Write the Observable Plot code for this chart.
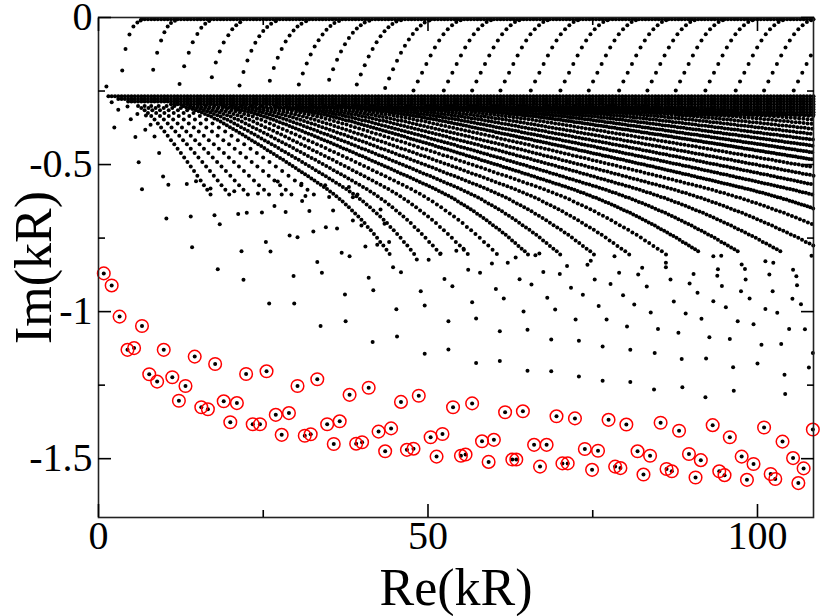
<!DOCTYPE html>
<html><head><meta charset="utf-8">
<script src="https://cdn.jsdelivr.net/npm/d3@7"></script>
<script src="https://cdn.jsdelivr.net/npm/@observablehq/plot@0.6"></script>
<style>
html,body{margin:0;padding:0;background:#fff}
svg{display:block}
svg text{font-family:"Liberation Serif","DejaVu Serif","Noto Serif","Times New Roman",Times,serif !important}
</style>
</head><body><div id="chart"></div>
<script>
// ---------- tick values ----------
const xMajor = [0, 50, 100];
const xMinor = [25, 75];
const yMajor = [0, -0.5, -1, -1.5];
const yMinor = [-0.25, -0.75, -1.25];

// ---------- x positions of the dense dot rows ----------
const gridX = [0.5,1,1.5,2,2.5,3,3.5,4,4.5,5,5.5,6,6.5,7,7.5,8,8.5,9,9.5,10,
10.5,11,11.5,12,12.5,13,13.5,14,14.5,15,15.5,16,16.5,17,17.5,18,18.5,19,19.5,20,
20.5,21,21.5,22,22.5,23,23.5,24,24.5,25,25.5,26,26.5,27,27.5,28,28.5,29,29.5,30,
30.5,31,31.5,32,32.5,33,33.5,34,34.5,35,35.5,36,36.5,37,37.5,38,38.5,39,39.5,40,
40.5,41,41.5,42,42.5,43,43.5,44,44.5,45,45.5,46,46.5,47,47.5,48,48.5,49,49.5,50,
50.5,51,51.5,52,52.5,53,53.5,54,54.5,55,55.5,56,56.5,57,57.5,58,58.5,59,59.5,60,
60.5,61,61.5,62,62.5,63,63.5,64,64.5,65,65.5,66,66.5,67,67.5,68,68.5,69,69.5,70,
70.5,71,71.5,72,72.5,73,73.5,74,74.5,75,75.5,76,76.5,77,77.5,78,78.5,79,79.5,80,
80.5,81,81.5,82,82.5,83,83.5,84,84.5,85,85.5,86,86.5,87,87.5,88,88.5,89,89.5,90,
90.5,91,91.5,92,92.5,93,93.5,94,94.5,95,95.5,96,96.5,97,97.5,98,98.5,99,99.5,100,
100.5,101,101.5,102,102.5,103,103.5,104,104.5,105,105.5,106,106.5,107,107.5,108,108.5];

// row of resonances at Im ~ 0 (top) and the dense band just below Im ~ -0.27
const topRowY = -0.006;
const topRowFrom = 6.5;
const bandRowY = [-0.268, -0.277, -0.286, -0.295, -0.304, -0.313, -0.322, -0.331];
const bandRowFrom = [1.5, 3, 4.5, 11, 30, 50, 70, 88];

// ---------- upper branches rising to Im = 0 ----------
const upperRightY = [-.248,-.218,-.188,-.158,-.129,-.102,-.078,-.057,-.040,-.026,-.015,-.009];
const upperCurvesX = [
 [3.6,4.1,4.7,5.3,5.9,6.4],
 [8.3,8.9,9.5,10.0,10.5,11.0,11.6],
 [12.3,13.0,13.7,14.3,15.0,15.6,16.2,16.8],
 [17.2,17.8,18.4,19.0,19.7,20.3,20.9,21.5],
 [21.4,22.0,22.6,23.2,23.8,24.4,25.0,25.6,26.2,26.9],
 [26.0,26.6,27.2,27.8,28.4,29.0,29.6,30.2,30.8,31.5],
 [30.4,31.0,31.6,32.2,32.8,33.4,34.0,34.6,35.2,35.8,36.5],
 [35.0,35.6,36.2,36.8,37.4,38.0,38.6,39.2,39.8,40.4,41.1],
 [39.2,39.8,40.4,41.0,41.6,42.2,42.8,43.4,44.0,44.6,45.2,45.9],
 [43.5,44.1,44.7,45.3,45.9,46.5,47.1,47.7,48.3,48.9,49.5,50.2],
 [47.8,48.45,49.1,49.75,50.4,51.05,51.7,52.35,53.0,53.65,54.3,54.95],
 [52.4,53.05,53.7,54.35,55.0,55.65,56.3,56.95,57.6,58.25,58.9,59.55],
 [56.7,57.35,58.0,58.65,59.3,59.95,60.6,61.25,61.9,62.55,63.2,63.85],
 [61.0,61.65,62.3,62.95,63.6,64.25,64.9,65.55,66.2,66.85,67.5,68.15],
 [65.6,66.25,66.9,67.55,68.2,68.85,69.5,70.15,70.8,71.45,72.1,72.75],
 [70.1,70.75,71.4,72.05,72.7,73.35,74.0,74.65,75.3,75.95,76.6,77.25],
 [74.4,75.05,75.7,76.35,77.0,77.65,78.3,78.95,79.6,80.25,80.9,81.55],
 [79.0,79.65,80.3,80.95,81.6,82.25,82.9,83.55,84.2,84.85,85.5,86.15],
 [83.3,83.95,84.6,85.25,85.9,86.55,87.2,87.85,88.5,89.15,89.8,90.45],
 [87.6,88.25,88.9,89.55,90.2,90.85,91.5,92.15,92.8,93.45,94.1,94.75],
 [92.1,92.75,93.4,94.05,94.7,95.35,96.0,96.65,97.3,97.95,98.6,99.25],
 [96.7,97.35,98.0,98.65,99.3,99.95,100.6,101.25,101.9,102.55,103.2,103.85],
 [101.0,101.65,102.3,102.95,103.6,104.25,104.9,105.55,106.2,106.85,107.5,108.15],
 [105.5,106.15,106.8,107.45,108.1]
];
const upperCurvesY = [
 [-.18,-.107,-.058,-.031,-.017,-.010],
 [-.178,-.12,-.078,-.05,-.031,-.019,-.011],
 [-.226,-.166,-.12,-.084,-.056,-.035,-.021,-.012],
 [-.203,-.153,-.116,-.085,-.06,-.04,-.026,-.016],
 [-.231,-.185,-.146,-.113,-.086,-.064,-.046,-.032,-.021,-.013],
 [-.215,-.172,-.137,-.107,-.082,-.061,-.044,-.031,-.021,-.013],
 [-.228,-.19,-.156,-.126,-.099,-.077,-.058,-.042,-.029,-.019,-.012],
 [-.212,-.176,-.144,-.116,-.091,-.07,-.052,-.037,-.026,-.017,-.011],
 [-.228,-.194,-.162,-.133,-.107,-.084,-.064,-.047,-.033,-.022,-.014,-.009],
 [-.24,-.207,-.176,-.147,-.12,-.096,-.075,-.056,-.04,-.027,-.017,-.01],
 upperRightY, upperRightY, upperRightY, upperRightY, upperRightY, upperRightY, upperRightY,
 upperRightY, upperRightY, upperRightY, upperRightY, upperRightY, upperRightY, upperRightY
];

// ---------- descending branches below the band ----------
const dxGrid = [-29.5,-29,-28.5,-28,-27.5,-27,-26.5,-26,-25.5,-25,-24.5,-24,-23.5,-23,-22.5,-22,-21.5,-21,-20.5,-20,
-19.5,-19,-18.5,-18,-17.5,-17,-16.5,-16,-15.5,-15,-14.5,-14,-13.5,-13,-12.5,-12,-11.5,-11,-10.5,-10,
-9.5,-9,-8.5,-8,-7.5,-7,-6.5,-6,-5.5,-5,-4.5,-4,-3.5,-3,-2.5,-2,-1.5,-1,-0.5,0,
0.5,1,1.5,2,2.5,3,3.5,4,4.5,5,5.5,6,6.5,7,7.5,8,8.5,9,9.5,10,
10.5,11,11.5,12,12.5,13,13.5,14,14.5,15,15.5,16,16.5,17,17.5,18,18.5,19,19.5,20,
20.5,21,21.5,22,22.5,23,23.5,24,24.5,25,25.5,26,26.5,27,27.5,28,28.5,29,29.5,30,
30.5,31,31.5,32,32.5,33,33.5,34,34.5,35,35.5,36,36.5,37,37.5,38,38.5,39,39.5,40,
40.5,41,41.5,42,42.5,43,43.5,44,44.5,45,45.5,46,46.5,47,47.5,48,48.5,49,49.5,50,
50.5,51,51.5,52,52.5,53,53.5,54,54.5,55,55.5,56,56.5,57,57.5,58,58.5,59,59.5,60,60.5];

const profL = [-.301,-.308,-.315,-.325,-.335,-.347,-.360,-.374,-.388,-.402,-.417,-.431,-.446,-.461,-.476,-.491,-.507,-.522,-.538,-.554,-.570,-.586,-.602];
const profA = [-.302,-.305,-.308,-.311,-.315,-.319,-.323,-.328,-.332,-.337,-.343,-.348,-.354,-.360,
-.366,-.373,-.379,-.385,-.392,-.398,-.405,-.411,-.418,-.424,-.431,-.437,-.444,-.451,-.457,-.464,-.471,-.478,-.484,-.491,
-.498,-.505,-.512,-.519,-.526,-.533,-.540,-.547,-.554,-.562,-.569,-.576,-.583,-.592,-.599,-.608,-.617,-.626,-.636,-.645,-.656,
-.666,-.677,-.688,-.699,-.712,-.723,-.736,-.749,-.763,-.775,-.790,-.804];
const profB = [-.302,-.304,-.306,-.308,-.310,-.313,-.315,-.318,-.321,-.323,-.327,-.330,-.333,-.337,-.340,-.344,-.348,-.352,-.356,-.360,
-.364,-.369,-.373,-.377,-.382,-.386,-.391,-.395,-.399,-.404,-.408,-.413,-.417,-.422,-.426,-.431,-.435,-.440,-.445,-.449,
-.454,-.458,-.463,-.468,-.472,-.477,-.482,-.487,-.491,-.496,-.501,-.506,-.510,-.515,-.520,-.525,-.530,-.535,-.539,-.544,
-.549,-.554,-.559,-.564,-.569,-.574,-.579,-.584,-.590,-.595,-.601,-.606,-.612,-.618,-.626,-.632,-.638,-.645,-.652,-.659,
-.667,-.674,-.682,-.689,-.698,-.706,-.714,
-.722,-.731,-.739,-.748,-.758,-.767,-.777,-.786,-.795,-.806];
const profC = [-.303,-.304,-.305,-.307,-.308,-.310,-.311,-.313,-.315,-.317,-.319,-.320,-.322,-.325,-.327,-.329,-.331,-.333,-.336,-.338,
-.341,-.343,-.346,-.349,-.351,-.354,-.357,-.360,
-.363,-.366,-.369,-.372,-.375,-.378,-.381,-.384,-.387,-.390,-.393,-.396,-.399,-.402,-.405,-.409,-.412,-.415,-.418,-.421,
-.424,-.427,-.430,-.433,-.437,-.440,-.443,-.446,-.449,-.452,-.456,-.459,-.462,-.465,-.469,-.472,-.475,-.478,-.481,-.485,
-.488,-.491,-.495,-.498,-.501,-.504,-.508,-.511,-.514,-.518,-.521,-.524,-.528,-.531,-.534,-.538,-.541,-.545,-.548,-.551,
-.555,-.558,-.562,-.565,-.568,-.572,-.575,-.579,-.582,-.586,-.590,-.594,-.597,-.602,-.605,-.610,-.613,-.618,-.622,-.627,
-.631,-.636,-.640,-.645,-.650,-.655,-.660,-.664,-.670,-.675,-.680,-.686,-.691,-.697,-.702,-.707,-.714,-.720,-.725,-.731,
-.738,-.743,-.749,-.756,-.763,-.768,-.775,-.782,-.788,-.795];
const profD = [-.302,-.303,-.304,-.305,-.306,-.307,-.308,-.309,-.310,-.311,-.313,-.314,-.315,-.316,-.318,-.319,-.320,-.322,-.323,-.325,
-.326,-.328,-.329,-.331,-.332,-.334,-.336,-.337,-.339,-.341,-.343,-.344,-.346,-.348,-.350,-.352,-.354,-.356,-.358,-.360,
-.362,-.364,-.366,-.368,-.371,-.373,-.375,-.377,-.379,-.381,-.383,-.385,-.387,-.390,-.392,-.394,-.396,-.398,-.400,-.402,
-.405,-.407,-.409,-.411,-.413,-.415,-.418,-.420,-.422,-.424,-.426,-.428,-.431,-.433,-.435,-.437,-.439,-.442,-.444,-.446,
-.448,-.451,-.453,-.455,-.457,-.460,-.462,-.464,-.466,-.469,-.471,-.473,-.475,-.478,-.480,-.482,-.484,-.487,-.489,-.491,
-.494,-.496,-.498,-.500,-.503,-.505,-.507,-.510,-.512,-.514,-.517,-.519,-.521,-.524,-.526,-.528,-.531,-.533,-.535,-.538,
-.540,-.543,-.545,-.547,-.550,-.552,-.554,-.557,-.559,-.562,-.564,-.566,-.569,-.571,-.574,-.576,-.578,-.581,-.583,-.586,
-.588,-.592,-.594,-.596,-.599,-.602,-.605,-.608,-.611,
-.613,-.617,-.619,-.623,-.626,-.629,-.632,-.636,-.638,-.642,-.645,-.649];
const profE = [-.302,-.303,-.303,-.304,-.304,-.305,-.306,-.306,-.307,-.308,-.308,-.309,-.310,-.311,-.311,-.312,-.313,-.314,-.315,-.315,
-.316,-.317,-.318,-.319,-.320,-.321,-.322,-.323,-.324,-.325,-.326,-.327,-.328,-.329,-.330,-.331,-.332,-.333,-.334,-.335,
-.336,-.337,-.338,-.340,-.341,-.342,-.343,-.344,-.346,-.347,-.348,-.349,-.351,-.352,-.353,-.355,-.356,-.357,-.359,-.360,
-.361,-.363,-.364,-.366,-.367,-.368,-.370,-.371,-.373,-.374,-.375,-.377,-.378,-.380,-.381,-.382,-.384,-.385,-.387,-.388,
-.390,-.391,-.392,-.394,-.395,-.397,-.398,-.399,-.401,-.402,-.404,-.405,-.407,-.408,-.410,-.411,-.412,-.414,-.415,-.417,
-.418,-.420,-.421,-.423,-.424,-.426,-.427,-.428,-.430,-.431,-.433,-.434,-.436,-.437,-.439,-.440,-.442,-.443,-.445,-.446,
-.448,-.449,-.451,-.452,-.454,-.455,-.457,-.458,-.460,-.461,-.463,-.464,-.466,-.467,-.469,-.470,-.472,-.473,-.475,-.476,
-.478,-.479,-.481,-.482,-.484];
// family reference width, first offset, and where each branch crosses Im = -0.36 (Re kR)
const famWidth = [9, 20, 29, 42, 60, 90];
const famStart = [-3, -6.5, -9.5, -13.5, -19.5, -29.5];
const crossL = [9, 10.5, 12, 13.7, 15.5, 17.3];
const crossA = [19.0, 20.6, 22.3, 24.1, 26.0];
const crossB = [28.0, 30.1, 32.3, 34.6, 37.0];
const crossC = [39.4, 42.0, 44.8, 47.7, 50.8];
const crossD = [54.0, 57.5, 61.2, 65.1, 69.3];
const crossE = [73.8, 78.6, 83.7, 89.1, 94.9, 101.0, 107.6, 114.6, 122.0];

// ---------- isolated resonances (read individually) ----------
const scatterPts = [
[1.2,-0.235],[2.0,-0.288],[3.0,-0.314],[4.4,-0.303],[4.9,-0.346],[2.4,-0.374],[5.6,-0.406],[6.1,-0.492],[6.6,-0.584],
[5.9,-0.328],[7.2,-0.333],[7.1,-0.382],[7.9,-0.365],[8.5,-0.405],[9.2,-0.461],[9.8,-0.541],
[10.6,-0.569],[13.4,-0.566],[14.8,-0.557],[17.0,-0.581],[20.6,-0.591],[24.2,-0.598],[27.2,-0.558],[27.8,-0.602],
[30.8,-0.565],[34.4,-0.570],[38.0,-0.576],
[10.3,-0.683],[14.0,-0.677],[17.6,-0.672],[18.4,-0.703],[21.2,-0.668],[22.5,-0.664],[24.8,-0.663],[26.7,-0.641],
[28.4,-0.661],[30.9,-0.624],[31.4,-0.607],[32.0,-0.658],[35.0,-0.610],[35.6,-0.656],[38.6,-0.611],[39.3,-0.602],
[14.2,-0.781],[18.1,-0.856],[21.7,-0.795],[22.0,-0.892],[25.4,-0.763],[26.1,-0.796],[29.0,-0.741],[30.2,-0.747],
[29.6,-0.879],[25.9,-0.972],[29.7,-0.972],[32.6,-0.728],[34.5,-0.713],[36.2,-0.717],[33.2,-0.831],[33.9,-0.868],
[33.7,-1.049],[36.9,-0.800],[38.1,-0.812],[37.4,-0.942],[37.5,-1.033],[38.6,-0.690],[39.9,-0.707],[40.5,-0.779],
[42.3,-0.773],[41.0,-0.885],[41.7,-0.927],[41.6,-1.103],[42.8,-0.653],[43.4,-0.701],[44.1,-0.763],
[44.7,-0.849],[45.9,-0.866],[45.2,-0.992],[45.3,-1.085],[48.3,-0.823],[50.1,-0.824],[48.9,-0.931],[49.5,-0.979],
[49.5,-1.143],[51.9,-0.802],[54.3,-0.793],[55.4,-0.786],[52.5,-0.889],[53.7,-0.914],[53.1,-1.033],[53.1,-1.129],
[56.1,-0.858],[57.9,-0.868],[56.7,-0.968],[57.3,-1.023],[57.3,-1.175],[59.7,-0.836],[62.1,-0.834],[63.3,-0.816],
[60.3,-0.923],[61.5,-0.955],[60.9,-1.067],[60.9,-1.168],[63.9,-0.890],[65.7,-0.908],[64.5,-1.000],[65.1,-1.062],
[65.1,-1.201],[66.3,-0.808],[66.9,-0.802],[67.5,-0.865],[70.0,-0.872],[71.1,-0.845],[68.1,-0.953],[69.3,-0.993],
[68.7,-1.095],[68.7,-1.203],[71.7,-0.919],[72.4,-1.027],[72.9,-1.099],[72.9,-1.221],[74.2,-0.841],[74.7,-0.827],
[75.3,-0.891],[73.5,-0.943],[75.9,-0.981],[77.1,-1.027],[76.5,-1.119],[76.5,-1.235],[77.7,-0.906],[78.3,-0.812],
[79.0,-0.868],[79.6,-0.944],[80.2,-1.051],[80.7,-1.130],[80.7,-1.239],[81.9,-0.874],[82.5,-0.851],[83.2,-0.915],
[81.3,-0.976],[83.8,-1.003],[84.9,-1.059],[84.4,-1.141],[84.3,-1.265],[86.1,-0.834],[86.1,-0.849],[86.8,-0.891],
[87.3,-0.966],[88.0,-1.072],[88.5,-1.161],[88.6,-1.257],[89.1,-1.006],[90.3,-0.872],[89.7,-0.904],[90.9,-0.936],
[91.5,-1.024],[92.7,-1.087],[92.2,-1.159],[92.1,-1.291],[93.3,-0.812],[94.5,-0.810],[94.0,-0.856],[93.9,-0.878],
[94.6,-0.913],[93.3,-0.965],[95.2,-0.985],[95.8,-1.093],[96.3,-1.189],[96.4,-1.269],[97.0,-1.033],[97.6,-0.840],
[98.1,-0.855],[98.2,-0.891],[97.5,-0.931],[98.8,-0.955],[99.4,-1.043],[100.6,-1.113],[100.0,-1.176],[101.2,-0.991],
[101.2,-0.829],[102.4,-0.834],[101.8,-0.874],[102.3,-0.931],[103.0,-1.004],[103.6,-1.110],[104.1,-1.215],[104.2,-1.280],
[104.8,-1.059],[105.4,-0.858],[105.9,-0.880],[106.0,-0.910],[105.3,-0.956],[106.6,-0.975],[107.2,-1.060],[108.4,-1.141],
[107.8,-1.190],[108.2,-0.810]
];

// ---------- highlighted (red-circled) resonances ----------
const redPts = [
[0.8,-0.870],[2.0,-0.911],[3.2,-1.017],[6.6,-1.049],[4.4,-1.130],[5.4,-1.124],[9.9,-1.130],[14.6,-1.153],[17.7,-1.178],
[7.7,-1.213],[8.9,-1.238],[11.2,-1.223],[13.2,-1.253],[12.2,-1.303],[15.6,-1.325],[16.6,-1.332],[19.0,-1.305],[21.0,-1.311],
[20.0,-1.376],[22.4,-1.212],[25.5,-1.203],[23.4,-1.383],[24.5,-1.383],[26.9,-1.351],[28.9,-1.345],[27.8,-1.419],[30.2,-1.253],
[33.2,-1.230],[31.3,-1.422],[32.2,-1.417],[34.7,-1.383],[36.6,-1.373],[35.7,-1.450],[38.1,-1.283],[41.0,-1.259],[39.1,-1.449],
[40.0,-1.444],[42.5,-1.408],[44.4,-1.397],[43.5,-1.475],[45.9,-1.307],[48.6,-1.286],[46.8,-1.470],[47.8,-1.466],[50.4,-1.427],
[52.2,-1.416],[51.3,-1.493],[53.8,-1.325],[56.7,-1.312],[55.0,-1.490],[55.7,-1.486],[58.2,-1.441],[60.0,-1.436],[59.2,-1.511],
[61.7,-1.342],[64.4,-1.339],[62.8,-1.503],[63.4,-1.503],[66.1,-1.453],[68.0,-1.453],[67.0,-1.527],[69.5,-1.356],[72.3,-1.363],
[70.4,-1.516],[71.2,-1.516],[73.8,-1.467],[75.8,-1.473],[74.9,-1.538],[77.4,-1.368],[80.1,-1.384],[78.4,-1.527],[79.2,-1.532],
[81.8,-1.475],[83.7,-1.490],[82.7,-1.554],[85.3,-1.378],[88.1,-1.405],[86.2,-1.535],[87.0,-1.543],[89.6,-1.484],[91.4,-1.505],
[90.6,-1.564],[93.2,-1.386],[95.8,-1.427],[94.2,-1.543],[95.0,-1.556],[97.6,-1.493],[99.4,-1.518],[98.4,-1.572],[101.0,-1.394],
[103.8,-1.442],[102.0,-1.552],[102.7,-1.569],[105.4,-1.498],[107.0,-1.533],[106.2,-1.583],[108.4,-1.401]
];

// ---------- build the table of black points ----------
const XMAX = 108.5;
const dots = [];
function add(x, y) { if (x >= 0 && x <= XMAX && y <= 0 && y >= -1.7) dots.push({x, y}); }

gridX.filter(x => x >= topRowFrom).forEach(x => add(x, topRowY));
bandRowY.forEach((y, k) => gridX.filter(x => x >= bandRowFrom[k]).forEach(x => add(x, y)));
upperCurvesX.forEach((xs, k) => xs.forEach((x, i) => add(x, upperCurvesY[k][i])));

const families = [
  [profL, crossL], [profA, crossA], [profB, crossB], [profC, crossC], [profD, crossD], [profE, crossE]
];
families.forEach(([prof, cross], f) => {
  const i0 = dxGrid.indexOf(famStart[f]);
  cross.forEach(xc => prof.forEach((y, i) => {
    const dx = dxGrid[i0 + i];
    if (dx !== undefined) add(xc * (1 + dx / famWidth[f]), y);
  }));
});
scatterPts.forEach(([x, y]) => add(x, y));
redPts.forEach(([x, y]) => add(x, y));
const red = redPts.map(([x, y]) => ({x, y}));

const serif = "Liberation Serif, DejaVu Serif, Noto Serif, serif";
const fmt = d => String(d);
const tickOpts = {tickFormat: () => "", label: null, strokeWidth: 1.6};

const chart = Plot.plot({
  width: 822,
  height: 616,
  marginLeft: 98,
  marginRight: 9,
  marginTop: 17,
  marginBottom: 99,
  style: {fontFamily: serif, background: "#fff", color: "#000", overflow: "visible"},
  x: {domain: [0, XMAX]},
  y: {domain: [-1.7, 0]},
  marks: [
    Plot.dot(dots, {x: "x", y: "y", r: 2.0, fill: "#000", stroke: null}),
    Plot.dot(red, {x: "x", y: "y", r: 6.3, fill: "none", stroke: "#ff0000", strokeWidth: 1.5}),
    Plot.frame({stroke: "#222", strokeWidth: 1.6}),
    // inward ticks on all four sides
    Plot.axisX({anchor: "bottom", ticks: xMajor, tickSize: -13, ...tickOpts}),
    Plot.axisX({anchor: "bottom", ticks: xMinor, tickSize: -7, ...tickOpts}),
    Plot.axisX({anchor: "top", ticks: xMajor, tickSize: -13, ...tickOpts}),
    Plot.axisX({anchor: "top", ticks: xMinor, tickSize: -7, ...tickOpts}),
    Plot.axisY({anchor: "left", ticks: yMajor, tickSize: -13, ...tickOpts}),
    Plot.axisY({anchor: "left", ticks: yMinor, tickSize: -7, ...tickOpts}),
    Plot.axisY({anchor: "right", ticks: yMajor, tickSize: -13, ...tickOpts}),
    Plot.axisY({anchor: "right", ticks: yMinor, tickSize: -7, ...tickOpts}),
    // tick labels
    Plot.axisX({anchor: "bottom", ticks: xMajor, tickSize: 0, tickPadding: 3, tickFormat: fmt, label: null, fontSize: 40, fontFamily: serif}),
    Plot.axisY({anchor: "left", ticks: yMajor, tickSize: 0, tickPadding: 6, tickFormat: fmt, label: null, fontSize: 40, fontFamily: serif}),
    // axis titles
    Plot.text(["Re(kR)"], {frameAnchor: "bottom", text: d => d, dy: 70.5, fontSize: 52, fontFamily: serif, textAnchor: "middle", lineAnchor: "middle"}),
    Plot.text(["Im(kR)"], {frameAnchor: "left", text: d => d, dx: -64.5, rotate: -90, fontSize: 52, fontFamily: serif, textAnchor: "middle", lineAnchor: "middle"})
  ]
});
document.getElementById("chart").appendChild(chart);
</script>
</body></html>
